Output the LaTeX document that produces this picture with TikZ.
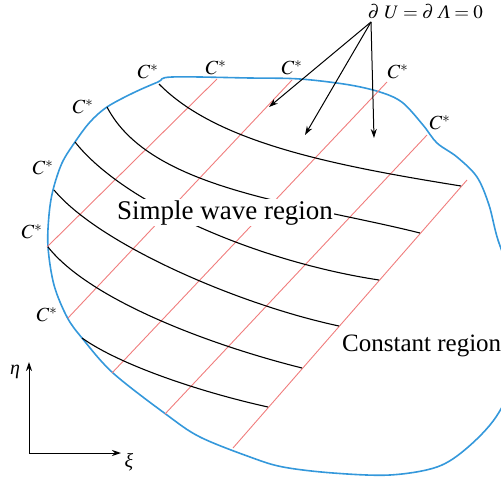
\documentclass[tikz,border=0pt]{standalone}
\usepackage{mathptmx}
\usepackage{fontspec}
\setmainfont{Liberation Serif}
\usetikzlibrary{arrows.meta}

\definecolor{bnd}{RGB}{52,152,219}
\definecolor{chr}{RGB}{240,125,125}
\newcommand{\gk}[1]{\mbox{\itshape #1}}

\begin{document}
\begin{tikzpicture}[
  x=1pt, y=-1pt,
  lbl/.style={font=\fontsize{20}{22}\selectfont, inner sep=0pt},
  region/.style={font=\fontsize{27}{30}\selectfont, inner sep=1.5pt, fill=white},
  cplus/.style={draw=chr, line width=0.9pt},
  cminus/.style={draw=black, line width=1.1pt},
  wall/.style={draw=bnd, line width=1.6pt},
  arr/.style={-{Stealth[length=9pt, width=6pt]}, line width=1pt},
]
\useasboundingbox (0,0) rectangle (501,479);
\clip (0,0) rectangle (501,479);

\draw[wall] plot[smooth cycle, tension=0.55] coordinates {
  (158,82) (172,77) (250,78) (300,79) (350,85) (383,93) (403,103)
  (423,125) (437,143) (457,157) (477,177) (489,205) (498,240)
  (516,290) (522,330) (516,375) (496,417) (467,448) (437,467)
  (390,475) (333,473) (283,467) (250,457) (200,437)
  (167,415) (113,373) (82,338) (67,317) (54,285) (48,247) (49,215)
  (53,190) (62,163) (75,142) (90,122) (107,107) (133,93)};

\draw[cplus] (217,79) -- (47,247);
\draw[cplus] (292,80) -- (68,318);
\draw[cplus] (387,82) -- (112,373);
\draw[cplus] (427,135) -- (165,414);
\draw[cplus] (467,180) -- (233,448);

\draw[cminus] (159,84) .. controls (216,142) and (330,165) .. (461,186);
\draw[cminus] (107,107) .. controls (150,190) and (300,203) .. (420,233);
\draw[cminus] (75,142) .. controls (125,205) and (260,262) .. (379,280);
\draw[cminus] (54,190) .. controls (100,245) and (240,305) .. (339,326);
\draw[cminus] (48,247) .. controls (90,300) and (210,345) .. (302,368);
\draw[cminus] (82,338) .. controls (120,365) and (200,392) .. (268,407);

\node[region, anchor=base] (simple) at (225,219) {Simple wave region};
\node[region, fill=none, inner sep=0pt, anchor=base west,
  font=\fontsize{25}{28}\selectfont] (const) at (342,351) {Constant region};

\foreach \px/\py [count=\i] in {148/72, 216/68, 292/68, 398/72, 440/123,
    83/107, 43/168, 32/232, 47/315}
  \node[lbl] (cs\i) at (\px,\py) {$C^*$};

\node[lbl, anchor=base east, font=\fontsize{19}{21}\selectfont] (cond) at (483,19)
  {$\thickmuskip=4mu \partial\ U = \partial\ \gk{Λ} = 0$};
\coordinate (src) at (371,22);
\coordinate (tipa) at (269,107);
\coordinate (tipb) at (305,135);
\coordinate (tipc) at (374,138);
\draw[arr] (src) -- (tipa);
\draw[arr] (src) -- (tipb);
\draw[arr] (src) -- (tipc);

\coordinate (orig) at (29,453);
\coordinate (etaend) at (29,362);
\coordinate (xiend) at (121,453);
\draw[arr] (orig) -- (etaend);
\draw[arr] (orig) -- (xiend);
\node[lbl] (eta) at (15,372) {$\gk{η}$};
\node[lbl] (xi) at (129,462) {$\gk{ξ}$};
\end{tikzpicture}
\end{document}
